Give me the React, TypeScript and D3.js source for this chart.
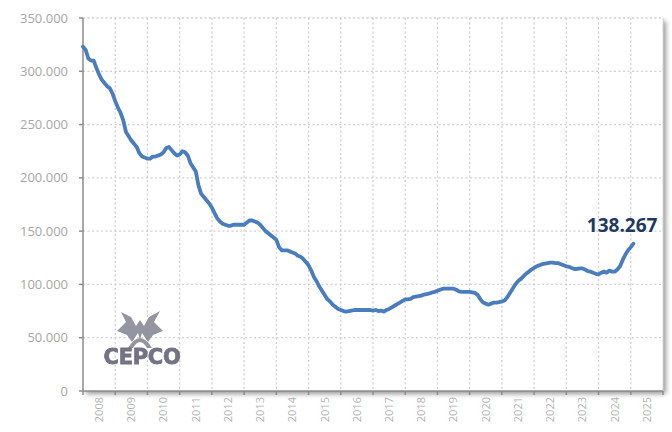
import React from "react";
import * as d3 from "d3";

const years = ["2008","2009","2010","2011","2012","2013","2014","2015","2016","2017","2018","2019","2020","2021","2022","2023","2024","2025"];
const yTicks = [0, 50000, 100000, 150000, 200000, 250000, 300000, 350000];

// Monthly values (thousands), Jan 2008 .. Feb 2025
const v2008 = [323,320,312,310,310,303,297,292,289,286,284,279];
const v2009 = [272,266,261,254,243,239,235,232,229,223,220,219];
const v2010 = [218,218,220,220,221,222,224,228,229,226,223,221];
const v2011 = [222,225,224,221,214,210,206,193,185,182,179,176];
const v2012 = [172,167,162,159,157,156,155,155,156,156,156,156];
const v2013 = [156,158,160,160,159,158,156,153,150,148,146,144];
const v2014 = [142,135,132,132,132,131,130,129,127,126,124,121];
const v2015 = [118,113,107,103,98,94,90,86,84,81,79,77];
const v2016 = [76,75,74.5,75,75.5,76,76,76,76,76,76,76];
const v2017 = [75.5,76,75,75.5,74.5,76,77,78.5,80,81.5,83,84.5];
const v2018 = [86,86,86.5,88,88.5,89,89.5,90.5,91,91.5,92.5,93];
const v2019 = [94,95,96,96,96,96,96,95,93.5,93,93,93];
const v2020 = [93,92.5,92,90,86,83,82,81,82,83,83,83.5];
const v2021 = [84,85,88,92,96,100,103,105,107.5,110,112,114];
const v2022 = [115.5,117,118,119,119.5,120,120.5,120.5,120,120,119,118];
const v2023 = [117,116.5,115.5,114.5,114.5,115,115,114,112.5,112,111,110];
const v2024 = [109.5,111,112,111,113,112,112,114,117,123,128,132];
const v2025 = [135,138.267];

const values = [
  ...v2008, ...v2009, ...v2010, ...v2011, ...v2012, ...v2013, ...v2014, ...v2015, ...v2016,
  ...v2017, ...v2018, ...v2019, ...v2020, ...v2021, ...v2022, ...v2023, ...v2024, ...v2025,
].map((v) => v * 1000);

const lastLabel = "138.267";

const W = 672, H = 432;
const left = 83, right = 663, top = 18, bottom = 391;

export default function App() {
  const x = d3.scaleLinear().domain([0, years.length * 12]).range([left, right]);
  const y = d3.scaleLinear().domain([0, 350000]).range([bottom, top]);
  const loc = d3.formatLocale({ decimal: ",", thousands: ".", grouping: [3], currency: ["", ""] });
  const fmt = loc.format(",");
  const line = d3.line<number>().x((_, i) => x(i)).y((d) => y(d)).curve(d3.curveLinear);
  const bounds = d3.range(0, years.length + 1).map((k) => x(k * 12));
  const lastI = values.length - 1;

  return (
    <svg width={W} height={H} style={{ position: "absolute", left: 0, top: 0 }}>
      <defs>
        <filter id="sh" x="-5%" y="-5%" width="115%" height="115%">
          <feDropShadow dx="3" dy="3" stdDeviation="2.5" floodColor="#000" floodOpacity="0.4" />
        </filter>
      </defs>
      <rect x={0} y={0} width={W} height={H} fill="#fff" />
      <rect x={left} y={top} width={right - left} height={bottom - top} fill="#fff" filter="url(#sh)" />
      {/* grid */}
      {yTicks.filter((t) => t > 0).map((t) => (
        <line key={"gy" + t} x1={left} x2={right} y1={y(t)} y2={y(t)} stroke="#d0d0d0" strokeWidth={1.3} strokeDasharray="2,2.5" />
      ))}
      {bounds.slice(1, -1).map((bx, i) => (
        <line key={"gx" + i} x1={bx} x2={bx} y1={top} y2={bottom} stroke="#d0d0d0" strokeWidth={1.3} strokeDasharray="2,2.5" />
      ))}
      <line x1={right} x2={right} y1={top} y2={bottom} stroke="#d6d6d6" strokeWidth={1} />
      {/* logo */}
      <g opacity={0.9}>
        <path d="M121,312 L131,317 L136,326 L140,320 L144,326 L149,317 L160,311 L154,322 L163,331 L153,335 L148,342 L142,333 L140,340 L138,333 L132,342 L127,335 L117,331 L126,322 Z" fill="#8a8a98" />
        <path d="M128,348 Q140,328 152,348 L147,348 Q140,336 133,348 Z" fill="#8a8a98" />
        <text x={142} y={364} textAnchor="middle" fontFamily="DejaVu Sans" fontWeight={900} fontSize={21} letterSpacing={-0.3} fill="#646478" stroke="#646478" strokeWidth={0.8}>CEPCO</text>
      </g>
      {/* axes */}
      <line x1={left} x2={left} y1={top} y2={bottom} stroke="#8c8c8c" strokeWidth={1.5} />
      <line x1={left} x2={right} y1={bottom} y2={bottom} stroke="#8c8c8c" strokeWidth={1.5} />
      {yTicks.map((t) => (
        <g key={"yt" + t}>
          <line x1={left - 4} x2={left} y1={y(t)} y2={y(t)} stroke="#8c8c8c" strokeWidth={1.5} />
          <text x={68} y={y(t)} dy="0.35em" textAnchor="end" fontFamily="Open Sans" fontSize={13} fill="#a6a6a6">{fmt(t)}</text>
        </g>
      ))}
      {bounds.map((bx, i) => (
        <line key={"xt" + i} x1={bx} x2={bx} y1={bottom} y2={bottom + 4} stroke="#8c8c8c" strokeWidth={1.5} />
      ))}
      {years.map((yr, k) => (
        <text key={yr} transform={`translate(${x(k * 12 + 6)},${bottom + 6}) rotate(-90)`} textAnchor="end" dy="0.35em" fontFamily="Open Sans" fontSize={11} fill="#b4b4b4">{yr}</text>
      ))}
      {/* series */}
      <path d={line(values) || ""} fill="none" stroke="#4a7dbd" strokeWidth={3.8} strokeLinejoin="round" strokeLinecap="round" />
      <text x={x(lastI) + 24} y={y(values[lastI]) - 12} textAnchor="end" fontFamily="Open Sans" fontWeight={700} fontSize={19} fill="#1f3a5f">{lastLabel}</text>
    </svg>
  );
}
